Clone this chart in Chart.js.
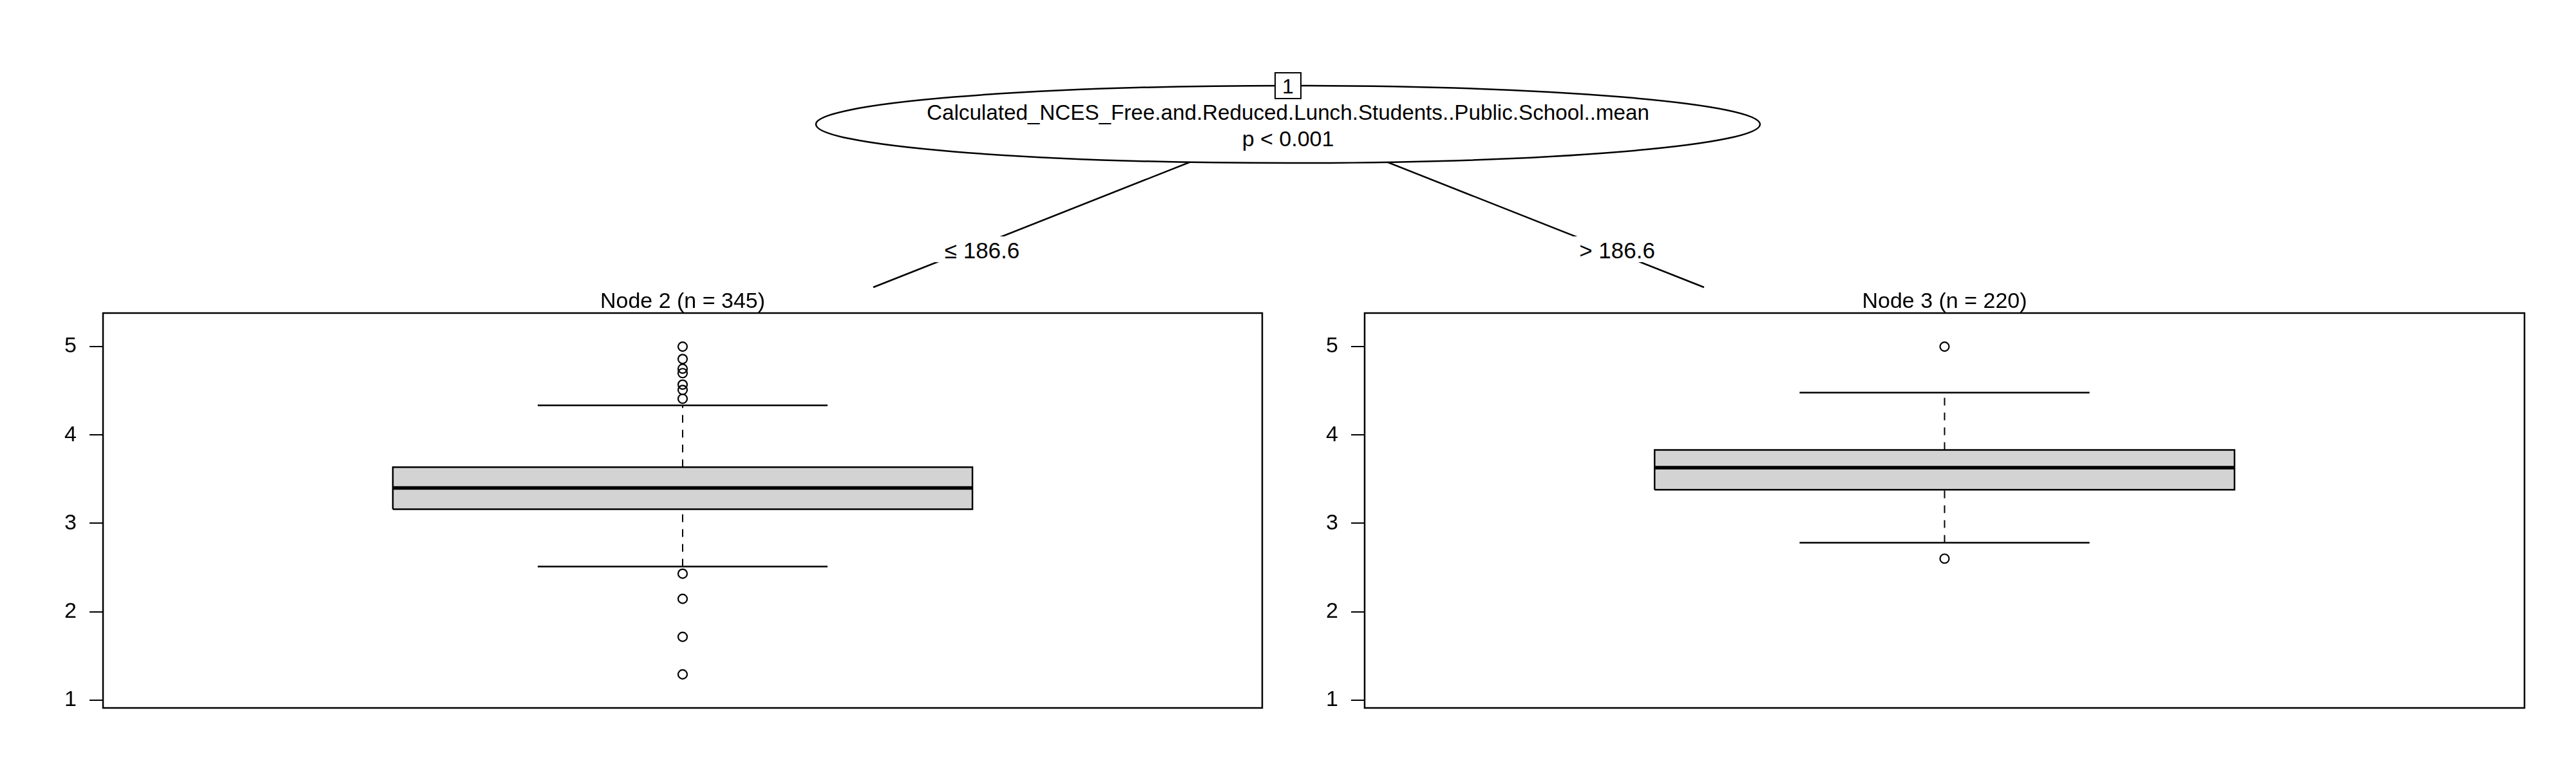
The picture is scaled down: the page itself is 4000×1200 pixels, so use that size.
<!DOCTYPE html>
<html>
<head>
<meta charset="utf-8">
<script src="https://cdn.jsdelivr.net/npm/chart.js@4/dist/chart.umd.min.js"></script>
<style>
	html, body { margin: 0; padding: 0; background: #fff; }
	#wrap { position: relative; width: 4000px; height: 1200px; overflow: hidden; }
	#tree { position: absolute; left: 0; top: 0; }
	canvas { position: absolute; }
	#panel2 { left: 0; top: 420px; }
	#panel3 { left: 1960px; top: 420px; }
</style>
</head>
<body>
<div id="wrap">
	<svg id="tree" width="4000" height="1200" xmlns="http://www.w3.org/2000/svg"></svg>
	<canvas id="panel2" width="1980" height="700"></canvas>
	<canvas id="panel3" width="1980" height="700"></canvas>
</div>
<script>
// tree
var nodeId = "1";
var splitVariable = "Calculated_NCES_Free.and.Reduced.Lunch.Students..Public.School..mean";
var pValue = "p < 0.001";
var splitLabels = ["\u2264 186.6", "> 186.6"];

// terminal nodes
var nodeTitles = ["Node 2 (n = 345)", "Node 3 (n = 220)"];
var lowerWhisker = [2.51, 2.78];
var lowerQuartile = [3.16, 3.38];
var medians = [3.40, 3.63];
var upperQuartile = [3.635, 3.83];
var upperWhisker = [4.335, 4.48];
var outliersNode2 = [5.0, 4.86, 4.75, 4.70, 4.57, 4.51, 4.41, 2.43, 2.145, 1.715, 1.29];
var outliersNode3 = [5.0, 2.6];
var yTicks = [1, 2, 3, 4, 5];
var yRange = [0.91, 5.38];

var FONT = "'Liberation Sans', Arial, Helvetica, sans-serif";
Chart.defaults.font.family = FONT;
Chart.defaults.color = "#000";

function drawTree() {
	var svg = document.getElementById("tree");
	var ns = "http://www.w3.org/2000/svg";
	function el(name, attrs, text) {
		var e = document.createElementNS(ns, name);
		for (var k in attrs) e.setAttribute(k, attrs[k]);
		if (text) e.textContent = text;
		svg.appendChild(e);
		return e;
	}
	// edges
	el("line", { x1: 1852, y1: 250, x2: 1356, y2: 446, stroke: "#000", "stroke-width": 2.5 });
	el("line", { x1: 2150, y1: 250, x2: 2646, y2: 446, stroke: "#000", "stroke-width": 2.5 });
	el("rect", { x: 1448, y: 367, width: 150, height: 40, fill: "#fff" });
	el("rect", { x: 2440, y: 367, width: 140, height: 40, fill: "#fff" });
	el("text", { x: 1525, y: 388, "font-size": 35, "font-family": FONT, "text-anchor": "middle", "dominant-baseline": "central" }, splitLabels[0]);
	el("text", { x: 2511, y: 388, "font-size": 35, "font-family": FONT, "text-anchor": "middle", "dominant-baseline": "central" }, splitLabels[1]);

	// inner node
	el("ellipse", { cx: 2000, cy: 193, rx: 733, ry: 60, fill: "#fff", stroke: "#000", "stroke-width": 2.5 });
	el("text", { x: 2000, y: 174, "font-size": 34, "font-family": FONT, "text-anchor": "middle", "dominant-baseline": "central", textLength: 1122, lengthAdjust: "spacingAndGlyphs" }, splitVariable);
	el("text", { x: 2000, y: 215, "font-size": 34, "font-family": FONT, "text-anchor": "middle", "dominant-baseline": "central" }, pValue);
	el("rect", { x: 1980, y: 113, width: 40, height: 40, fill: "#fff", stroke: "#000", "stroke-width": 2 });
	el("text", { x: 2000, y: 134, "font-size": 32, "font-family": FONT, "text-anchor": "middle", "dominant-baseline": "central" }, nodeId);
}

var panelBorder = {
	id: "panelBorder",
	afterDraw: function (chart) {
		var ctx = chart.ctx;
		var a = chart.chartArea;
		ctx.save();
		ctx.strokeStyle = "#000";
		ctx.lineWidth = 2.5;
		ctx.strokeRect(a.left, a.top, a.right - a.left, a.bottom - a.top);
		ctx.restore();
	},
};

function seg(x1, y1, x2, y2) {
	return [{ x: x1, y: y1 }, { x: x2, y: y2 }];
}

function boxPanel(canvasId, i, outliers, axisWidth) {
	var lo = 0.25, hi = 0.75, mid = 0.5, capLo = 0.375, capHi = 0.625;
	var lineDs = function (data, extra) {
		var ds = {
			data: data,
			borderColor: "#000",
			borderWidth: 2.5,
			pointRadius: 0,
			fill: false,
			order: 1,
		};
		for (var k in extra) ds[k] = extra[k];
		return ds;
	};

	var datasets = [
		// box fill, between Q3 and Q1
		lineDs(seg(lo, upperQuartile[i], hi, upperQuartile[i]), {
			borderWidth: 0, fill: "+1", backgroundColor: "#d3d3d3", order: 5,
		}),
		lineDs(seg(lo, lowerQuartile[i], hi, lowerQuartile[i]), { borderWidth: 0, order: 5 }),
		// box outline
		lineDs([
			{ x: lo, y: lowerQuartile[i] },
			{ x: hi, y: lowerQuartile[i] },
			{ x: hi, y: upperQuartile[i] },
			{ x: lo, y: upperQuartile[i] },
			{ x: lo, y: lowerQuartile[i] },
		], {}),
		// median
		lineDs(seg(lo, medians[i], hi, medians[i]), { borderWidth: 5.5, order: 0 }),
		// whiskers
		lineDs(seg(mid, upperQuartile[i], mid, upperWhisker[i]), { borderWidth: 2, borderDash: [12, 11] }),
		lineDs(seg(mid, lowerWhisker[i], mid, lowerQuartile[i]), { borderWidth: 2, borderDash: [12, 11] }),
		lineDs(seg(capLo, upperWhisker[i], capHi, upperWhisker[i]), {}),
		lineDs(seg(capLo, lowerWhisker[i], capHi, lowerWhisker[i]), {}),
		// outliers
		{
			data: outliers.map(function (v) { return { x: mid, y: v }; }),
			showLine: false,
			pointStyle: "circle",
			pointRadius: 7,
			pointBorderWidth: 2.2,
			pointBorderColor: "#000",
			pointBackgroundColor: "rgba(0,0,0,0)",
			order: 0,
		},
	];

	return new Chart(document.getElementById(canvasId), {
		type: "line",
		data: { datasets: datasets },
		options: {
			responsive: false,
			animation: false,
			layout: { padding: { left: 0, right: 20, top: 0, bottom: 21 } },
			plugins: {
				legend: { display: false },
				tooltip: { enabled: false },
				title: {
					display: true,
					fullSize: false,
					text: nodeTitles[i],
					color: "#000",
					font: { size: 34, weight: "normal", lineHeight: 1.0 },
					padding: { top: 32, bottom: 0 },
				},
			},
			scales: {
				x: { type: "linear", display: false, min: 0, max: 1 },
				y: {
					type: "linear",
					min: yRange[0],
					max: yRange[1],
					afterBuildTicks: function (axis) {
						axis.ticks = yTicks.map(function (v) { return { value: v }; });
					},
					afterFit: function (axis) {
						axis.width = axisWidth;
						axis.paddingTop = 0;
						axis.paddingBottom = 0;
					},
					grid: {
						drawOnChartArea: false,
						drawTicks: true,
						tickLength: 21,
						color: "#000",
						lineWidth: 2,
					},
					border: { display: false },
					ticks: {
						color: "#000",
						padding: 20,
						font: { size: 34 },
					},
				},
			},
		},
		plugins: [panelBorder],
	});
}

drawTree();
boxPanel("panel2", 0, outliersNode2, 160);
boxPanel("panel3", 1, outliersNode3, 159);
</script>
</body>
</html>
